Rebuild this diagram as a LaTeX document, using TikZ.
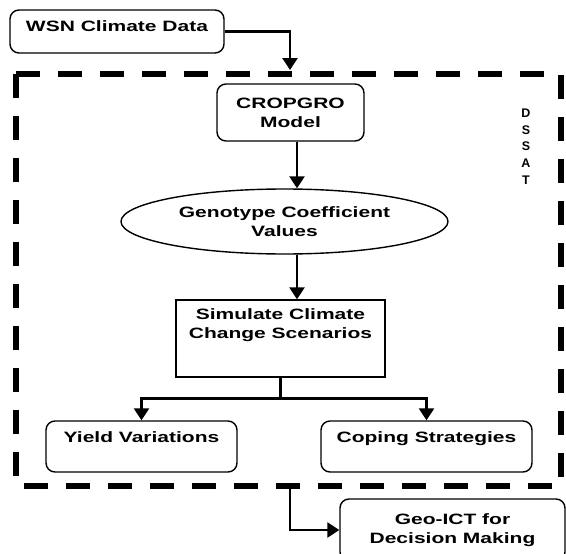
\documentclass[tikz,border=0pt]{standalone}
\usepackage{fontspec}
\setmainfont{Liberation Sans}
\newfontfamily\boxfont{Liberation Sans}[FakeStretch=1.4]
\usetikzlibrary{shapes.geometric,positioning,calc,arrows.meta}

\begin{document}
\begin{tikzpicture}[x=1pt,y=-1pt, >={Triangle[width=15pt,length=12pt]},
    rbox/.style={draw, rounded corners=9pt, line width=1.4pt, inner sep=0pt},
    sbox/.style={draw, line width=1.4pt, inner sep=0pt},
    txt/.style={font=\boxfont\bfseries\fontsize{15}{19}\selectfont, align=center, inner sep=0pt},
    arr/.style={->, line width=2.6pt},
    dsbox/.style={line width=6.5pt, dash pattern=on 24pt off 18pt}]
    \useasboundingbox (0,0) rectangle (566,554);
    \clip (0,0) rectangle (566,554);

    % DSSAT frame
    \draw[dsbox] (16,74) rectangle (561,486);
    \node[font=\bfseries\fontsize{12.5}{16.8}\selectfont, align=center, inner sep=0pt] (dssat) at (526,146.5) {D\\S\\S\\A\\T};
    \coordinate (dsin) at (290,70);
    \coordinate (dsout) at (290,489);

    % boxes
    \node[rbox, minimum width=214pt, minimum height=43pt] (wsn) at (117,31.5) {};
    \node[txt, below=11.5pt of wsn.north] (wsntxt) {WSN Climate Data};

    \node[rbox, txt, minimum width=147pt, minimum height=57pt] (crop) at (290.5,112.5) {CROPGRO\\Model};

    \node[ellipse, draw, line width=1.4pt, txt, minimum width=327pt, minimum height=65pt] (geno) at (284.5,221.5) {Genotype Coefficient\\Values};

    \node[sbox, minimum width=209pt, minimum height=77pt] (sim) at (280.5,338.5) {};
    \node[txt, below=9.5pt of sim.north] (simtxt) {Simulate Climate\\Change Scenarios};

    \node[rbox, minimum width=191pt, minimum height=51pt] (yield) at (141.5,446.5) {};
    \node[txt, below=11.5pt of yield.north] (yieldtxt) {Yield Variations};

    \node[rbox, minimum width=211pt, minimum height=51pt] (coping) at (426.5,446.5) {};
    \node[txt, below=11.5pt of coping.north] (copingtxt) {Coping Strategies};

    \node[rbox, txt, minimum width=225pt, minimum height=62pt] (geo) at (452.5,530) {Geo-ICT for\\Decision Making};

    % connectors
    \draw[arr] (wsn.east) -| (dsin);
    \draw[arr] ([xshift=6.5pt]crop.south) -- ([xshift=6.5pt]crop.south |- geno.north);
    \draw[arr] ([xshift=12.5pt]geno.south) -- ([xshift=12.5pt]geno.south |- sim.north);
    \draw[arr] (sim.south) -- ++(0,21) -| (yield.north);
    \draw[arr] (sim.south) -- ++(0,21) -| (coping.north);
    \draw[arr] (dsout) |- (geo.west);
\end{tikzpicture}
\end{document}
